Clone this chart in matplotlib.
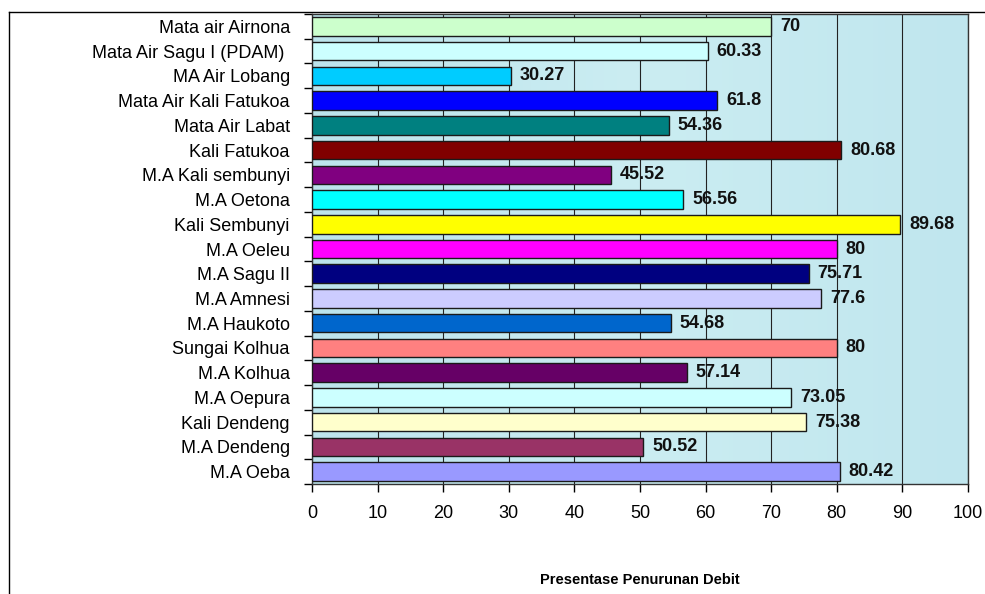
import numpy as np
import matplotlib
matplotlib.use("Agg")
import matplotlib.pyplot as plt
from matplotlib.lines import Line2D

plt.rcParams['font.family'] = ['Liberation Sans', 'DejaVu Sans']

# sumber air dan persentase penurunan debit
lokasi = ['Mata air Airnona', 'Mata Air Sagu I (PDAM) ', 'MA Air Lobang',
          'Mata Air Kali Fatukoa', 'Mata Air Labat', 'Kali Fatukoa',
          'M.A Kali sembunyi', 'M.A Oetona', 'Kali Sembunyi', 'M.A Oeleu',
          'M.A Sagu II', 'M.A Amnesi', 'M.A Haukoto', 'Sungai Kolhua',
          'M.A Kolhua', 'M.A Oepura', 'Kali Dendeng', 'M.A Dendeng', 'M.A Oeba']
penurunan = [70, 60.33, 30.27, 61.8, 54.36, 80.68, 45.52, 56.56, 89.68, 80,
             75.71, 77.6, 54.68, 80, 57.14, 73.05, 75.38, 50.52, 80.42]
label_nilai = ['70', '60.33', '30.27', '61.8', '54.36', '80.68', '45.52',
               '56.56', '89.68', '80', '75.71', '77.6', '54.68', '80',
               '57.14', '73.05', '75.38', '50.52', '80.42']
warna = ['#CCFFCC', '#CCFFFF', '#00CCFF', '#0000FF', '#008080', '#800000',
         '#800080', '#00FFFF', '#FFFF00', '#FF00FF', '#000080', '#CCCCFF',
         '#0066CC', '#FF8080', '#660066', '#CCFFFF', '#FFFFCC', '#993366',
         '#9999FF']
xticks = [0, 10, 20, 30, 40, 50, 60, 70, 80, 90, 100]

W, H = 985, 594
fig = plt.figure(figsize=(W / 100, H / 100), dpi=100)
fig.patch.set_facecolor('white')

# bingkai luar chart
fig.add_artist(Line2D([9 / W, 9 / W], [0, 1 - 12 / H], color='black', lw=1.0))
fig.add_artist(Line2D([9 / W, 1], [1 - 12 / H, 1 - 12 / H], color='black', lw=1.0))

ax = fig.add_axes([312 / W, 1 - 484 / H, (968 - 312) / W, (484 - 14) / H])

# latar biru muda bergradasi
grad = np.linspace(0, 1, 256).reshape(1, -1)
cmap = matplotlib.colors.LinearSegmentedColormap.from_list(
    'air', ['#bde4ec', '#cbedf2', '#c0e6ee'])
ax.imshow(grad, extent=[0, 100, -0.5, len(lokasi) - 0.5], aspect='auto',
          cmap=cmap, zorder=0)

y = np.arange(len(lokasi))
ax.barh(y, penurunan, height=0.75, color=warna, edgecolor='#1a1a1a',
        linewidth=1.0, zorder=3)

for yi, v, s in zip(y, penurunan, label_nilai):
    ax.annotate(s, xy=(v, yi), xytext=(6.5, 0), textcoords='offset points',
                ha='left', va='center', fontsize=13, fontweight='bold',
                color='#111111', zorder=4)

ax.set_xlim(0, 100)
ax.set_ylim(len(lokasi) - 0.5, -0.5)
ax.set_xticks(xticks)
ax.set_xticklabels([str(t) for t in xticks], fontsize=13)
ax.set_yticks(y)
ax.set_yticklabels(lokasi, fontsize=13)
ax.set_yticks(np.arange(len(lokasi) + 1) - 0.5, minor=True)
ax.tick_params(axis='y', which='major', length=0, pad=16)
ax.tick_params(axis='y', which='minor', length=6, width=1, direction='out')
ax.tick_params(axis='x', length=6, width=1, direction='out', pad=9)

ax.grid(axis='x', color='#222222', linewidth=0.8, zorder=1)
ax.set_axisbelow(True)
for side in ['left', 'bottom', 'right', 'top']:
    ax.spines[side].set_color('#333333')
    ax.spines[side].set_linewidth(1.0)

ax.set_xlabel('Presentase Penurunan Debit', fontsize=10.5, fontweight='bold',
              labelpad=37)

fig.savefig('out.png', dpi=100)
